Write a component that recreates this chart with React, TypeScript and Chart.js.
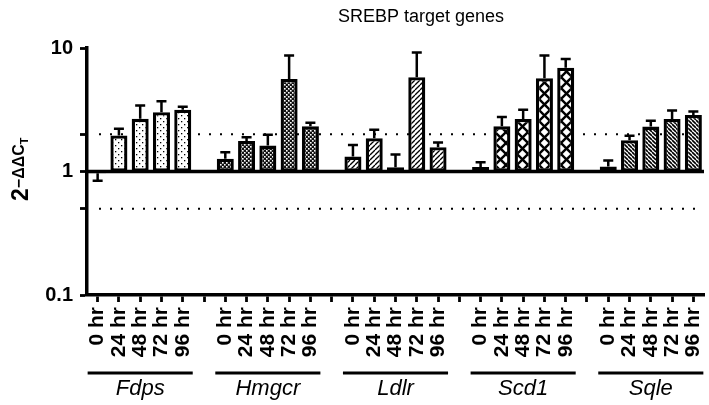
import React, { useEffect, useRef } from 'react';
import { Chart, registerables } from 'chart.js';

Chart.register(...registerables);

const genes = ['Fdps', 'Hmgcr', 'Ldlr', 'Scd1', 'Sqle'];
const times = ['0 hr', '24 hr', '48 hr', '72 hr', '96 hr'];

const fdps = [0.97, 1.96, 2.67, 3.02, 3.16];
const fdpsErr = [0.84, 2.22, 3.42, 3.71, 3.34];
const hmgcr = [1.27, 1.77, 1.62, 5.6, 2.32];
const hmgcrErr = [1.43, 1.89, 1.98, 8.7, 2.48];
const ldlr = [1.32, 1.86, 1.08, 5.8, 1.57];
const ldlrErr = [1.64, 2.18, 1.37, 9.2, 1.72];
const scd1 = [1.09, 2.32, 2.66, 5.7, 6.93];
const scd1Err = [1.19, 2.76, 3.16, 8.7, 8.15];
const sqle = [1.1, 1.79, 2.31, 2.66, 2.87];
const sqleErr = [1.23, 1.95, 2.58, 3.12, 3.06];

const yTicks = [0.1, 0.5, 1, 2, 10];
const yTickLabels: Record<string, string> = { '0.1': '0.1', '1': '1', '10': '10' };
const refLines = [2, 0.5];
const baseline = 1;

const FONT = '"Liberation Sans", Arial, Helvetica, sans-serif';

function makePattern(kind: string): CanvasPattern | string {
  const c = document.createElement('canvas');
  let s = 6;
  if (kind === 'dots') s = 6;
  if (kind === 'checker') s = 4;
  if (kind === 'diag') s = 5;
  if (kind === 'cross') s = 11;
  if (kind === 'diag2') s = 4;
  c.width = s;
  c.height = s;
  const g = c.getContext('2d')!;
  g.fillStyle = '#fff';
  g.fillRect(0, 0, s, s);
  g.fillStyle = '#000';
  g.strokeStyle = '#000';
  if (kind === 'dots') {
    g.fillRect(1, 1, 1.3, 1.3);
    g.fillRect(4, 4, 1.3, 1.3);
  } else if (kind === 'checker') {
    g.fillStyle = '#111';
    g.fillRect(0, 0, s, s);
    g.fillStyle = '#fff';
    g.fillRect(0, 0, 1.6, 1.6);
    g.fillRect(2, 2, 1.6, 1.6);
  } else if (kind === 'diag') {
    g.lineWidth = 1.3;
    for (let k = -1; k <= 1; k++) {
      g.beginPath();
      g.moveTo(k * s, s);
      g.lineTo(k * s + s, 0);
      g.stroke();
    }
  } else if (kind === 'cross') {
    g.lineWidth = 2.4;
    for (let k = -1; k <= 1; k++) {
      g.beginPath();
      g.moveTo(k * s, s);
      g.lineTo(k * s + s, 0);
      g.stroke();
      g.beginPath();
      g.moveTo(k * s, 0);
      g.lineTo(k * s + s, s);
      g.stroke();
    }
  } else if (kind === 'diag2') {
    g.lineWidth = 1.6;
    for (let k = -1; k <= 1; k++) {
      g.beginPath();
      g.moveTo(k * s, 0);
      g.lineTo(k * s + s, s);
      g.stroke();
    }
  }
  const p = g.createPattern(c, 'repeat');
  return p || '#fff';
}

export default function App() {
  const ref = useRef<HTMLCanvasElement>(null);

  useEffect(() => {
    document.body.style.margin = '0';
    const means = [fdps, hmgcr, ldlr, scd1, sqle];
    const errs = [fdpsErr, hmgcrErr, ldlrErr, scd1Err, sqleErr];
    const kinds = ['dots', 'checker', 'diag', 'cross', 'diag2'];
    const patterns = kinds.map(makePattern);

    const labels: string[] = [];
    const data: (number[] | null)[] = [];
    const meanArr: (number | null)[] = [];
    const errArr: (number | null)[] = [];
    const bg: (CanvasPattern | string)[] = [];
    const groupSlots: number[][] = [];

    genes.forEach((g, gi) => {
      const slots: number[] = [];
      times.forEach((t, ti) => {
        slots.push(labels.length);
        labels.push(t);
        data.push([baseline, means[gi][ti]]);
        meanArr.push(means[gi][ti]);
        errArr.push(errs[gi][ti]);
        bg.push(patterns[gi]);
      });
      groupSlots.push(slots);
      if (gi < genes.length - 1) {
        labels.push('');
        data.push(null);
        meanArr.push(null);
        errArr.push(null);
        bg.push('#fff');
      }
    });

    const overlay = {
      id: 'overlay',
      beforeDatasetsDraw(chart: any) {
        const ctx = chart.ctx;
        const y = chart.scales.y;
        const area = chart.chartArea;
        ctx.save();
        ctx.strokeStyle = '#000';
        ctx.lineWidth = 2;
        ctx.setLineDash([2, 9]);
        refLines.forEach((v) => {
          const py = y.getPixelForValue(v);
          ctx.beginPath();
          ctx.moveTo(area.left + 12, py);
          ctx.lineTo(area.right - 4, py);
          ctx.stroke();
        });
        ctx.restore();
      },
      afterDatasetsDraw(chart: any) {
        const ctx = chart.ctx;
        const y = chart.scales.y;
        const area = chart.chartArea;
        const meta = chart.getDatasetMeta(0);
        ctx.save();
        ctx.strokeStyle = '#000';
        ctx.lineWidth = 3.5;
        const by = y.getPixelForValue(baseline);
        ctx.beginPath();
        ctx.moveTo(area.left, by);
        ctx.lineTo(area.right, by);
        ctx.stroke();
        ctx.lineWidth = 2.5;
        meta.data.forEach((el: any, i: number) => {
          const m = meanArr[i];
          const e = errArr[i];
          if (m == null || e == null) return;
          const y0 = y.getPixelForValue(m);
          const y1 = y.getPixelForValue(e);
          ctx.beginPath();
          ctx.moveTo(el.x, y0);
          ctx.lineTo(el.x, y1);
          ctx.moveTo(el.x - 5, y1);
          ctx.lineTo(el.x + 5, y1);
          ctx.stroke();
        });
        ctx.restore();
      },
      afterDraw(chart: any) {
        const ctx = chart.ctx;
        const x = chart.scales.x;
        ctx.save();
        ctx.fillStyle = '#000';
        ctx.strokeStyle = '#000';
        // title
        ctx.font = `18px ${FONT}`;
        ctx.textAlign = 'center';
        ctx.textBaseline = 'middle';
        ctx.fillText('SREBP target genes', 421, 17);
        // group labels
        ctx.lineWidth = 3;
        groupSlots.forEach((slots, gi) => {
          const x0 = x.getPixelForValue(slots[0]) - 10;
          const x1 = x.getPixelForValue(slots[slots.length - 1]) + 10;
          ctx.beginPath();
          ctx.moveTo(x0, 373);
          ctx.lineTo(x1, 373);
          ctx.stroke();
          const xc = x.getPixelForValue(slots[2]);
          ctx.font = `italic 22px ${FONT}`;
          ctx.textAlign = 'center';
          ctx.textBaseline = 'middle';
          ctx.fillText(genes[gi], xc, 389);
        });
        // y axis title
        ctx.translate(28, 201);
        ctx.rotate(-Math.PI / 2);
        ctx.textAlign = 'left';
        ctx.textBaseline = 'alphabetic';
        ctx.font = `bold 23px ${FONT}`;
        ctx.fillText('2', 0, 0);
        let off = ctx.measureText('2').width;
        ctx.font = `bold 16px ${FONT}`;
        ctx.fillText('\u2212\u0394\u0394C', off, -4);
        off += ctx.measureText('\u2212\u0394\u0394C').width;
        ctx.font = `bold 11px ${FONT}`;
        ctx.fillText('T', off, 0);
        ctx.restore();
      },
    };

    const chart = new Chart(ref.current!, {
      type: 'bar',
      data: {
        labels,
        datasets: [
          {
            data: data as any,
            backgroundColor: bg as any,
            borderColor: '#000',
            borderWidth: 3.3,
            borderSkipped: false,
            categoryPercentage: 1,
            barPercentage: 0.8,
          },
        ],
      },
      options: {
        animation: false,
        responsive: true,
        maintainAspectRatio: false,
        layout: { padding: { top: 48, right: 5, left: 0, bottom: 0 } },
        plugins: {
          legend: { display: false },
          tooltip: { enabled: false },
          title: { display: false },
        },
        scales: {
          x: {
            type: 'category',
            offset: true,
            grid: {
              display: true,
              offset: false,
              drawOnChartArea: false,
              drawTicks: true,
              tickLength: 7,
              tickWidth: 2.8,
              tickColor: '#000',
            },
            border: { display: true, width: 3.5, color: '#000' },
            ticks: {
              autoSkip: false,
              minRotation: 90,
              maxRotation: 90,
              padding: 5,
              color: '#000',
              font: { family: FONT, size: 21, weight: 'bold' },
            },
            afterFit(scale: any) {
              scale.height = 110;
              scale.paddingLeft = 0;
              scale.paddingRight = 0;
            },
          },
          y: {
            type: 'logarithmic',
            min: 0.1,
            max: 10,
            grid: {
              display: true,
              drawOnChartArea: false,
              drawTicks: true,
              tickLength: 7,
              tickWidth: 2.8,
              tickColor: '#000',
            },
            border: { display: true, width: 3.5, color: '#000' },
            ticks: {
              padding: 7,
              color: '#000',
              font: { family: FONT, size: 20, weight: 'bold' },
              callback: (v: any) => yTickLabels[String(v)] ?? '',
            },
            afterBuildTicks(scale: any) {
              scale.ticks = yTicks.map((v) => ({ value: v }));
            },
            afterFit(scale: any) {
              scale.width = 87;
              scale.paddingTop = 0;
              scale.paddingBottom = 0;
            },
          },
        },
      },
      plugins: [overlay],
    });
    return () => chart.destroy();
  }, []);

  return (
    <div style={{ position: 'absolute', left: 0, top: 0, width: 709, height: 405 }}>
      <canvas ref={ref} />
    </div>
  );
}
